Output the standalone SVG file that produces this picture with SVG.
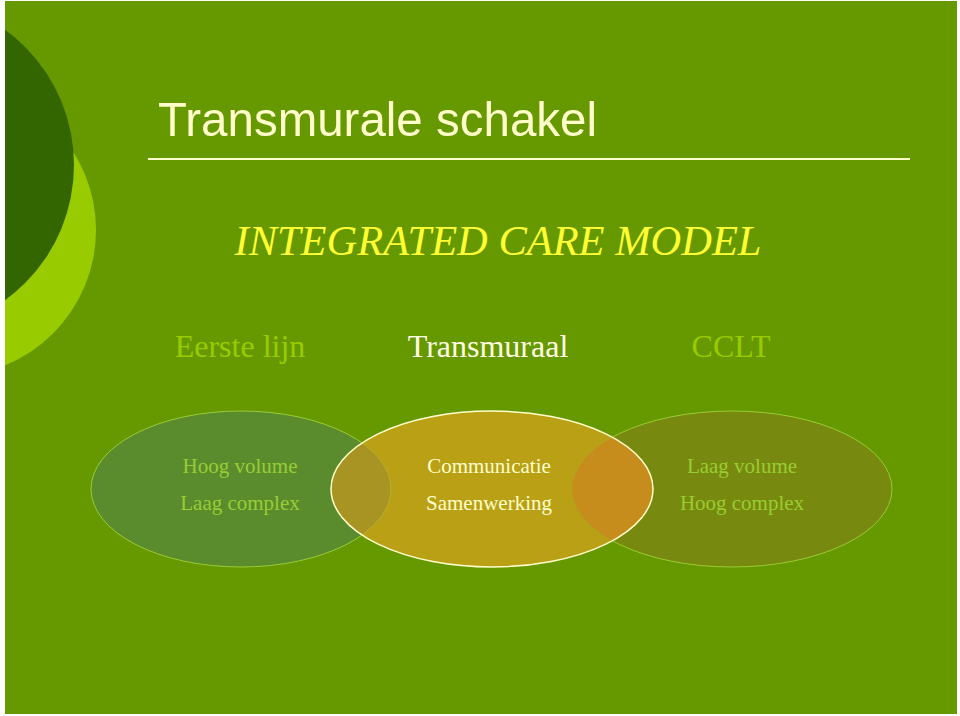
<svg xmlns="http://www.w3.org/2000/svg" width="960" height="716" viewBox="0 0 960 716">
<defs>
<style>
.serif{font-family:"Liberation Serif","Times New Roman",serif}
.c1{fill:#99cc33;font-size:21px}
.c2{fill:#ffffcc;font-size:21px}
.hdr{font-size:32px}
</style>
<clipPath id="slide"><rect x="5" y="1" width="952" height="713"/></clipPath>
<clipPath id="clipMid"><ellipse cx="492" cy="489" rx="161" ry="78"/></clipPath>
</defs>
<rect width="960" height="716" fill="#ffffff"/>
<g clip-path="url(#slide)">
<rect x="5" y="1" width="952" height="713" fill="#669900"/>
<circle cx="-50" cy="230" r="146" fill="#99cc00"/>
<circle cx="-93" cy="165" r="167" fill="#336600"/>
</g>
<g id="title">
<text x="158" y="136" font-family="'Liberation Sans',Arial,sans-serif" font-size="49" fill="#ffffcc" textLength="439" lengthAdjust="spacingAndGlyphs">Transmurale schakel</text>
<line x1="148" y1="159" x2="910" y2="159" stroke="#ffffcc" stroke-width="2"/>
</g>
<g id="subtitle">
<text x="498" y="255" class="serif" font-style="italic" font-size="43" fill="#ffff33" text-anchor="middle" textLength="527" lengthAdjust="spacingAndGlyphs">INTEGRATED CARE MODEL</text>
</g>
<g id="headers">
<text x="240" y="357" class="serif hdr" fill="#99cc00" text-anchor="middle">Eerste lijn</text>
<text x="488" y="357" class="serif hdr" fill="#ffffe6" text-anchor="middle">Transmuraal</text>
<text x="731" y="357" class="serif hdr" fill="#99cc00" text-anchor="middle">CCLT</text>
</g>
<g id="connectors"></g>
<g id="eerste">
<ellipse cx="241" cy="489" rx="150" ry="78" fill="#5a8c2e" stroke="#99cc33" stroke-width="1"/>
</g>
<g id="cclt">
<ellipse cx="732" cy="489" rx="160" ry="78" fill="#778a0f" stroke="#99cc33" stroke-width="1"/>
</g>
<g id="transmuraal">
<ellipse cx="492" cy="489" rx="161" ry="78" fill="#b9a015"/>
<g clip-path="url(#clipMid)">
<ellipse cx="241" cy="489" rx="150" ry="78" fill="#a89422" stroke="#b5b030" stroke-width="1"/>
<ellipse cx="732" cy="489" rx="160" ry="78" fill="#c68c1c" stroke="#b5a020" stroke-width="1"/>
</g>
<ellipse cx="492" cy="489" rx="161" ry="78" fill="none" stroke="#ffffcc" stroke-width="1.5"/>
</g>
<g id="labels" class="serif">
<text x="240" y="473" class="c1" text-anchor="middle">Hoog volume</text>
<text x="240" y="510" class="c1" text-anchor="middle">Laag complex</text>
<text x="489" y="473" class="c2" text-anchor="middle">Communicatie</text>
<text x="489" y="510" class="c2" text-anchor="middle">Samenwerking</text>
<text x="742" y="473" class="c1" text-anchor="middle">Laag volume</text>
<text x="742" y="510" class="c1" text-anchor="middle">Hoog complex</text>
</g>
</svg>
